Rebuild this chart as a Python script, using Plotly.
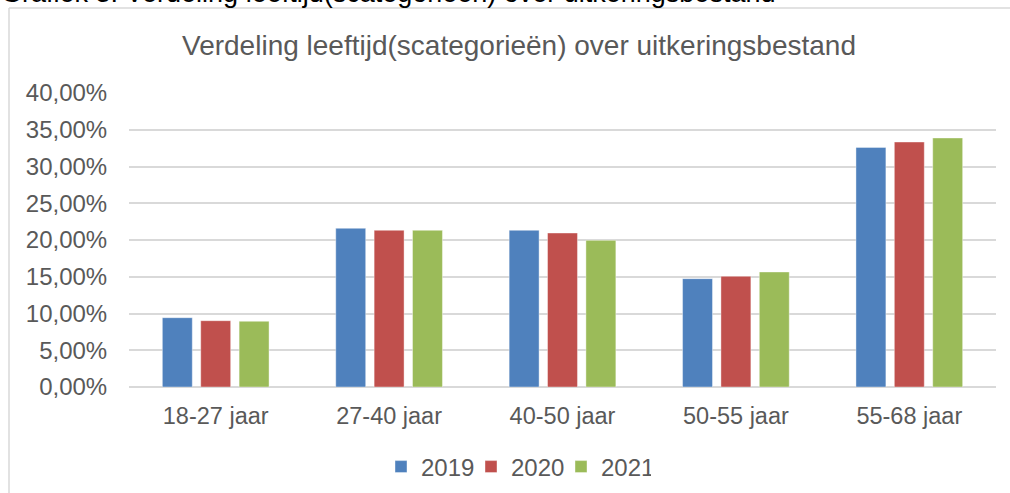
import plotly.graph_objects as go

categories = ["18-27 jaar", "27-40 jaar", "40-50 jaar", "50-55 jaar", "55-68 jaar"]
years = ["2019", "2020", "2021"]
values_2019 = [0.0943, 0.2159, 0.2132, 0.1474, 0.3260]
values_2020 = [0.0902, 0.2132, 0.2095, 0.1506, 0.3333]
values_2021 = [0.0894, 0.2132, 0.1995, 0.1565, 0.3388]
series = [values_2019, values_2020, values_2021]
colors = ["#4f81bd", "#c0504d", "#9bbb59"]
y_ticks = [0.0, 0.05, 0.10, 0.15, 0.20, 0.25, 0.30, 0.35, 0.40]

W, H = 1010, 493
L, R, T, B = 129, 996, 93, 387  # plot area pixels
pw, ph = R - L, B - T


def px_x(p):
    return (p - L) / pw


def px_y(p):
    return (B - p) / ph


FONT = "Liberation Sans, Arial, sans-serif"
GREY = "#595959"

fig = go.Figure()
for name, vals, col in zip(years, series, colors):
    fig.add_trace(go.Bar(
        x=categories, y=vals, name=name,
        marker=dict(color=col, line=dict(color="rgba(255,255,255,0.5)", width=0.8)),
    ))

fig.update_layout(
    width=W, height=H,
    margin=dict(l=L, r=W - R, t=T, b=H - B, pad=0),
    paper_bgcolor="white", plot_bgcolor="white",
    separators=",.",
    barmode="group", bargap=0.336, bargroupgap=0.22,
    font=dict(family=FONT, size=24, color=GREY),
    title=dict(
        text="Verdeling leeftijd(scategorieën) over uitkeringsbestand",
        font=dict(family=FONT, size=28, color=GREY),
        xref="container", x=519 / W, xanchor="center",
        yref="container", y=1 - 45 / H, yanchor="middle",
    ),
    showlegend=True,
    legend=dict(
        orientation="h",
        xref="container", yref="container",
        x=381 / W, xanchor="left",
        y=1 - 467 / H, yanchor="middle",
        font=dict(family=FONT, size=24, color=GREY),
        itemwidth=30,
        entrywidth=45, entrywidthmode="pixels",
        traceorder="normal",
    ),
    xaxis=dict(
        showgrid=False, showline=False, zeroline=False,
        ticks="outside", ticklen=8, tickcolor="rgba(0,0,0,0)",
        tickfont=dict(family=FONT, size=23.5, color=GREY),
    ),
    yaxis=dict(
        range=[0, 0.40], tickvals=y_ticks, tickformat=".2%",
        showgrid=True, gridcolor="#d9d9d9", gridwidth=1.5,
        zeroline=True, zerolinecolor="#d9d9d9", zerolinewidth=1.5,
        showline=False,
        ticks="outside", ticklen=16, tickcolor="rgba(0,0,0,0)",
        tickfont=dict(family=FONT, size=24, color=GREY),
    ),
    shapes=[
        dict(type="line", xref="paper", yref="paper",
             x0=px_x(9), x1=px_x(9), y0=px_y(8), y1=px_y(520),
             line=dict(color="#d9d9d9", width=1.5)),
        dict(type="line", xref="paper", yref="paper",
             x0=px_x(9), x1=px_x(1040), y0=px_y(8), y1=px_y(8),
             line=dict(color="#d9d9d9", width=1.5)),
    ],
    annotations=[
        dict(text="Grafiek 3: Verdeling leeftijd(scategorieën) over uitkeringsbestand",
             xref="paper", yref="paper", x=px_x(-1), y=px_y(10),
             xanchor="left", yanchor="bottom", showarrow=False,
             font=dict(family=FONT, size=27, color="#000000")),
    ],
)

fig.write_html(
    "out.html",
    config={"displayModeBar": False},
    post_script="document.body.style.margin='0px';document.body.style.overflow='hidden';",
)
